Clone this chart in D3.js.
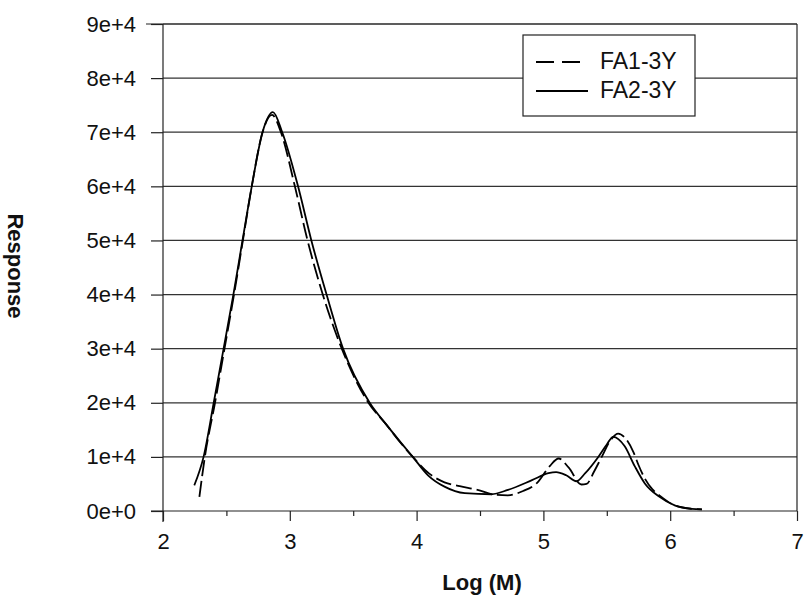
<!DOCTYPE html>
<html>
<head>
<meta charset="utf-8">
<script src="https://cdn.jsdelivr.net/npm/d3@7"></script>
<style>
  html, body { margin: 0; padding: 0; background: #fff; }
  svg text { font-family: Arial, "Liberation Sans", sans-serif; fill: #111; }
</style>
</head>
<body>
<svg id="chart" width="807" height="600"></svg>
<script>
// ---- data ----
const xTicks = [2, 3, 4, 5, 6, 7];
const xMinorTicks = [2.5, 3.5, 4.5, 5.5, 6.5];
const yTicks = [0, 10000, 20000, 30000, 40000, 50000, 60000, 70000, 80000, 90000];
const yTickLabels = ["0e+0", "1e+4", "2e+4", "3e+4", "4e+4", "5e+4", "6e+4", "7e+4", "8e+4", "9e+4"];
const seriesNames = ["FA1-3Y", "FA2-3Y"];

const fa1X = [2.287, 2.33, 2.41, 2.485, 2.56, 2.63, 2.70, 2.785, 2.86, 2.93, 3.04, 3.14, 3.26, 3.41, 3.62, 3.76, 3.86, 3.97, 4.10, 4.22, 4.34, 4.48, 4.62, 4.72, 4.84, 4.95, 5.05, 5.12, 5.20, 5.30, 5.34, 5.40, 5.46, 5.53, 5.59, 5.64, 5.71, 5.75, 5.80, 5.86, 5.92, 6.04, 6.17, 6.25];
const fa1Y = [2600, 10000, 20000, 30000, 40000, 50000, 60000, 70000, 73200, 70000, 60000, 50000, 40000, 30000, 20000, 16000, 13000, 10000, 6900, 5300, 4600, 3900, 3000, 2900, 3700, 5200, 8300, 9700, 8000, 4900, 5000, 7300, 10000, 13100, 14300, 13600, 10900, 8500, 6000, 4000, 2800, 1000, 400, 300];

const fa2X = [2.247, 2.32, 2.40, 2.478, 2.555, 2.627, 2.70, 2.785, 2.867, 2.94, 3.065, 3.17, 3.29, 3.42, 3.63, 3.76, 3.86, 3.97, 4.09, 4.22, 4.38, 4.59, 4.72, 4.91, 5.04, 5.10, 5.18, 5.26, 5.33, 5.43, 5.50, 5.55, 5.64, 5.72, 5.80, 5.91, 6.04, 6.17, 6.25];
const fa2Y = [4750, 10000, 20000, 30000, 40000, 50000, 60000, 70000, 73700, 70000, 60000, 50000, 40000, 30000, 20000, 16000, 13100, 10000, 6600, 4500, 3300, 3100, 3900, 5700, 7000, 7200, 6600, 5500, 7000, 9900, 12300, 13700, 12000, 8300, 5100, 2700, 1000, 400, 300];

// ---- layout ----
const svg = d3.select("#chart");
const plotL = 163, plotR = 797, plotT = 24, plotB = 511;
const x = d3.scaleLinear().domain([2, 7]).range([plotL, plotR]);
const y = d3.scaleLinear().domain([0, 90000]).range([plotB, plotT]);
const ink = "#222";
const fontFam = "Arial, 'Liberation Sans', sans-serif";

// gridlines
svg.append("g").selectAll("line").data(yTicks.slice(1)).join("line")
  .attr("x1", plotL).attr("x2", plotR)
  .attr("y1", d => y(d)).attr("y2", d => y(d))
  .attr("stroke", "#333").attr("stroke-width", 1.2);

// right border
svg.append("line").attr("x1", plotR).attr("x2", plotR).attr("y1", plotT).attr("y2", plotB)
  .attr("stroke", ink).attr("stroke-width", 1.2);

// y axis
const yAxis = d3.axisLeft(y).tickValues(yTicks).tickFormat((d, i) => yTickLabels[i]).tickSize(12).tickPadding(15);
const gy = svg.append("g").attr("transform", `translate(${plotL},0)`).call(yAxis);
gy.select(".domain").remove();
gy.selectAll(".tick line").attr("stroke", ink).attr("stroke-width", 1.2);
gy.selectAll(".tick text").attr("font-size", 22).attr("fill", "#111").style("font-family", fontFam);
svg.append("line").attr("x1", plotL).attr("x2", plotL).attr("y1", plotT).attr("y2", plotB + 11)
  .attr("stroke", ink).attr("stroke-width", 1.2);

// x axis
const xAxis = d3.axisBottom(x).tickValues(xTicks).tickFormat(d3.format("d")).tickSize(10).tickPadding(12);
const gx = svg.append("g").attr("transform", `translate(0,${plotB})`).call(xAxis);
gx.select(".domain").remove();
gx.selectAll(".tick line").attr("stroke", ink).attr("stroke-width", 1.2);
gx.selectAll(".tick text").attr("font-size", 22).attr("fill", "#111").style("font-family", fontFam);
const xMinor = d3.axisBottom(x).tickValues(xMinorTicks).tickFormat("").tickSize(5);
const gxm = svg.append("g").attr("transform", `translate(0,${plotB})`).call(xMinor);
gxm.select(".domain").remove();
gxm.selectAll(".tick line").attr("stroke", ink).attr("stroke-width", 1.2);
svg.append("line").attr("x1", plotL - 12).attr("x2", plotR).attr("y1", plotB).attr("y2", plotB)
  .attr("stroke", ink).attr("stroke-width", 1.2);
svg.append("line").attr("x1", plotL - 17).attr("x2", plotR).attr("y1", plotT).attr("y2", plotT)
  .attr("stroke", ink).attr("stroke-width", 1.2);

// curves
const line = d3.line().x(d => x(d[0])).y(d => y(d[1])).curve(d3.curveMonotoneX);
const fa1 = fa1X.map((v, i) => [v, fa1Y[i]]);
const fa2 = fa2X.map((v, i) => [v, fa2Y[i]]);
svg.append("path").datum(fa1).attr("d", line).attr("fill", "none")
  .attr("stroke", "#000").attr("stroke-width", 1.8).attr("stroke-dasharray", "16,5");
svg.append("path").datum(fa2).attr("d", line).attr("fill", "none")
  .attr("stroke", "#000").attr("stroke-width", 1.8);

// axis titles
svg.append("text").attr("x", 482).attr("y", 590).attr("text-anchor", "middle")
  .attr("font-size", 22).attr("font-weight", "bold").text("Log (M)");
svg.append("text").attr("transform", "translate(8,266) rotate(90)").attr("text-anchor", "middle")
  .attr("font-size", 22).attr("font-weight", "bold").text("Response");

// legend
const lg = svg.append("g");
lg.append("rect").attr("x", 523).attr("y", 35).attr("width", 172).attr("height", 81)
  .attr("fill", "#fff").attr("stroke", ink).attr("stroke-width", 1.2);
const legendY = [62, 91];
const dashes = ["18,8", null];
seriesNames.forEach((name, i) => {
  const l = lg.append("line").attr("x1", 536).attr("x2", 588)
    .attr("y1", legendY[i]).attr("y2", legendY[i])
    .attr("stroke", "#000").attr("stroke-width", 1.8);
  if (dashes[i]) l.attr("stroke-dasharray", dashes[i]);
  lg.append("text").attr("x", 600).attr("y", legendY[i] + 7)
    .attr("font-size", 23).text(name);
});
</script>
</body>
</html>
